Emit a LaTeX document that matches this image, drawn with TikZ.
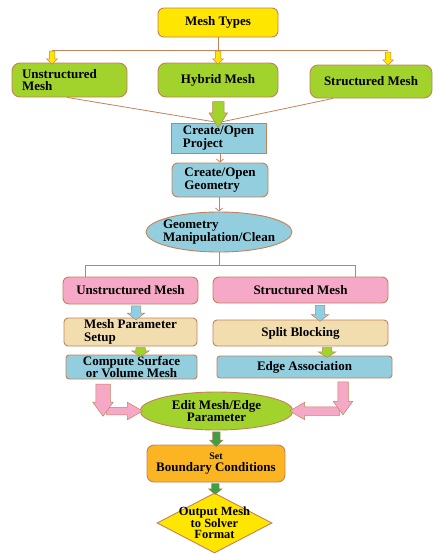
\documentclass[tikz,border=0pt]{standalone}
\usepackage{fontspec}
\setmainfont{Liberation Serif}
\usetikzlibrary{shapes.geometric,shapes.arrows,arrows.meta,calc}

% colours of the flow chart
\definecolor{edgebrown}{HTML}{C3825A}
\definecolor{meshyellow}{HTML}{FFE600}
\definecolor{limegreen}{HTML}{A2D22C}
\definecolor{skyblue}{HTML}{93CEDE}
\definecolor{rosepink}{HTML}{F6A9C6}
\definecolor{wheat}{HTML}{F1DDAE}
\definecolor{amber}{HTML}{FBB522}
\definecolor{leafgreen}{HTML}{3E9F45}
\definecolor{arrowblue}{HTML}{8ECFE6}

\tikzset{
  txt/.style={font=\bfseries\fontsize{13}{12.5}\selectfont, align=left},
  stepbox/.style={txt, draw=edgebrown, line width=0.9pt, rounded corners=6pt, inner sep=0pt},
  sqbox/.style={stepbox, rounded corners=0pt},
  oval/.style={ellipse, draw=edgebrown, line width=0.9pt, inner sep=0pt},
  thinline/.style={draw=edgebrown, line width=0.8pt},
  blkarr/.style={single arrow, draw=edgebrown, line width=0.5pt, inner xsep=0pt, minimum width=0pt},
}

\begin{document}
\begin{tikzpicture}[x=1pt, y=-1pt]
    \useasboundingbox (0,0) rectangle (432,554);

    % --- Boxes ---
    \node[stepbox, fill=meshyellow, minimum width=120pt, minimum height=29pt] (types) at (218,22.5) {Mesh Types};

    \node[stepbox, fill=limegreen, rounded corners=8pt, minimum width=115pt, minimum height=34pt, text width=95pt] (uns) at (69.5,80) {Unstructured\\Mesh};
    \node[stepbox, fill=limegreen, rounded corners=8pt, minimum width=120pt, minimum height=34pt] (hyb) at (218,80) {Hybrid Mesh};
    \node[stepbox, fill=limegreen, rounded corners=8pt, minimum width=122pt, minimum height=33pt] (str) at (371,81.5) {Structured Mesh};

    \node[sqbox, fill=skyblue, minimum width=95pt, minimum height=30pt] (proj) at (218.5,138) {Create/Open\\Project};
    \node[stepbox, fill=skyblue, minimum width=96pt, minimum height=34pt] (geo) at (220,180) {Create/Open\\Geometry};
    \node[oval, fill=skyblue, minimum width=146pt, minimum height=40pt] (manip) at (219,232) {};
    \node[txt] (manipText) at (manip) {Geometry\\Manipulation/Clean};

    \node[stepbox, fill=rosepink, minimum width=135pt, minimum height=27pt] (unsM) at (130.5,290.5) {Unstructured Mesh};
    \node[stepbox, fill=rosepink, minimum width=175pt, minimum height=26pt] (strM) at (300.5,290) {Structured Mesh};
    \node[stepbox, fill=wheat, rounded corners=4pt, minimum width=133pt, minimum height=28pt] (param) at (130.5,332) {Mesh Parameter\\Setup};
    \node[stepbox, fill=wheat, rounded corners=4pt, minimum width=175pt, minimum height=26pt] (split) at (300.5,333) {Split Blocking};
    \node[stepbox, fill=skyblue, rounded corners=3pt, minimum width=131pt, minimum height=24pt, align=center] (comp) at (131.5,367) {Compute Surface\\or Volume Mesh};
    \node[stepbox, fill=skyblue, rounded corners=3pt, minimum width=175pt, minimum height=22pt] (edge) at (304.5,367) {Edge Association};

    \node[oval, fill=limegreen, minimum width=153pt, minimum height=38pt] (edit) at (216.5,411) {};
    \node[txt, align=center] (editText) at (edit) {Edit Mesh/Edge\\Parameter};
    \node[stepbox, fill=amber, rounded corners=7pt, minimum width=138pt, minimum height=37pt, align=center] (bc) at (216,463.5) {{\fontsize{10}{10}\selectfont Set}\\Boundary Conditions};
    \node[diamond, draw=edgebrown, line width=0.9pt, fill=meshyellow, inner sep=0pt, minimum width=115pt, minimum height=60pt] (out) at (214.5,523) {};
    \node[txt, align=center, font=\bfseries\fontsize{12.5}{11.5}\selectfont] (outText) at (out) {Output Mesh\\to Solver\\Format};

    % --- Top fork ---
    \coordinate (busL) at (52,50);
    \coordinate (busT) at (218,50);
    \coordinate (busR) at (388,50);
    \draw[thinline] (types.south) -- (busT);
    \draw[thinline] (busL) -- (busR);
    \foreach \b/\t in {busL/uns, busT/hyb, busR/str}
        \path (\b) -- (\b |- \t.north) node[midway, blkarr, fill=meshyellow, rotate=-90, minimum height=13pt, inner ysep=2.5pt, single arrow head extend=2.5pt] {};

    % --- Into the project box ---
    \draw[thinline] ($(uns.south west)!.48!(uns.south east)$) -- (proj.north);
    \draw[thinline] ($(str.south west)!.19!(str.south east)$) -- (proj.north);
    \path (hyb.south) -- (proj.north) node[midway, blkarr, fill=limegreen, rotate=-90, minimum height=26pt, inner ysep=5.5pt, single arrow head extend=3.5pt, single arrow tip angle=65] {};

    \draw[thinline, -{Straight Barb[length=3pt, width=7pt]}] (proj.south -| geo.north) -- (geo.north);
    \draw[thinline, -{Straight Barb[length=3pt, width=7pt]}] (geo.south -| manip.north) -- (manip.north);

    % --- Second fork ---
    \coordinate (forkL) at (85,265);
    \coordinate (forkR) at (355,265);
    \draw[thinline] (manip.south) -- (manip.south |- forkL);
    \draw[thinline] (forkL) -- (forkR);
    \draw[thinline] (forkL) -- (forkL |- unsM.north);
    \draw[thinline] (forkR) -- (forkR |- strM.north);

    % --- Small arrows in the two columns ---
    \path ([xshift=5.5pt]unsM.south) -- ([xshift=5.5pt]param.north) node[midway, blkarr, fill=arrowblue, rotate=-90, minimum height=14pt, inner ysep=4.5pt, single arrow head extend=4pt, single arrow tip angle=105] {};
    \path ([xshift=19.5pt]strM.south) -- ([xshift=19.5pt]split.north) node[midway, blkarr, fill=arrowblue, rotate=-90, minimum height=16pt, inner ysep=4.5pt, single arrow head extend=4pt, single arrow tip angle=105] {};
    \path ([xshift=9.5pt]param.south) -- ([xshift=9.5pt]comp.north) node[midway, blkarr, fill=limegreen, rotate=-90, minimum height=9pt, inner ysep=4.5pt, single arrow head extend=4pt, single arrow tip angle=115] {};
    \path ([xshift=24.5pt]split.south) -- ([xshift=24.5pt]edge.north) node[midway, blkarr, fill=limegreen, rotate=-90, minimum height=10pt, inner ysep=4.5pt, single arrow head extend=4pt, single arrow tip angle=115] {};

    % --- Pink elbows into the edit step ---
    \coordinate (elbowL) at (103,411);
    \coordinate (elbowR) at (343,411);
    \path (elbowL) -- (edit.west) node[midway, blkarr, fill=rosepink, minimum height=36pt, inner ysep=3.5pt, single arrow head extend=5pt, single arrow tip angle=60] {};
    \path (elbowR) -- (edit.east) node[midway, blkarr, fill=rosepink, rotate=180, minimum height=50pt, inner ysep=4pt, single arrow head extend=4.5pt, single arrow tip angle=60] {};
    \path ([xshift=-28.5pt]comp.south) -- (elbowL) node[midway, blkarr, fill=rosepink, rotate=-90, minimum height=32pt, inner ysep=7pt, single arrow head extend=3pt, single arrow tip angle=72] {};
    \path ([xshift=38.5pt]edge.south) -- (elbowR) node[midway, blkarr, fill=rosepink, rotate=-90, minimum height=33pt, inner ysep=5pt, single arrow head extend=4.5pt, single arrow tip angle=72] {};

    % --- Last steps ---
    \path (edit.south) -- (bc.north) node[midway, blkarr, fill=leafgreen, rotate=-90, minimum height=15pt, inner ysep=3.5pt, single arrow head extend=3pt, single arrow tip angle=90] {};
    \path (bc.south) -- (out.north) node[midway, blkarr, fill=leafgreen, rotate=-90, minimum height=11pt, inner ysep=3.5pt, single arrow head extend=3pt, single arrow tip angle=100] {};

\end{tikzpicture}
\end{document}
